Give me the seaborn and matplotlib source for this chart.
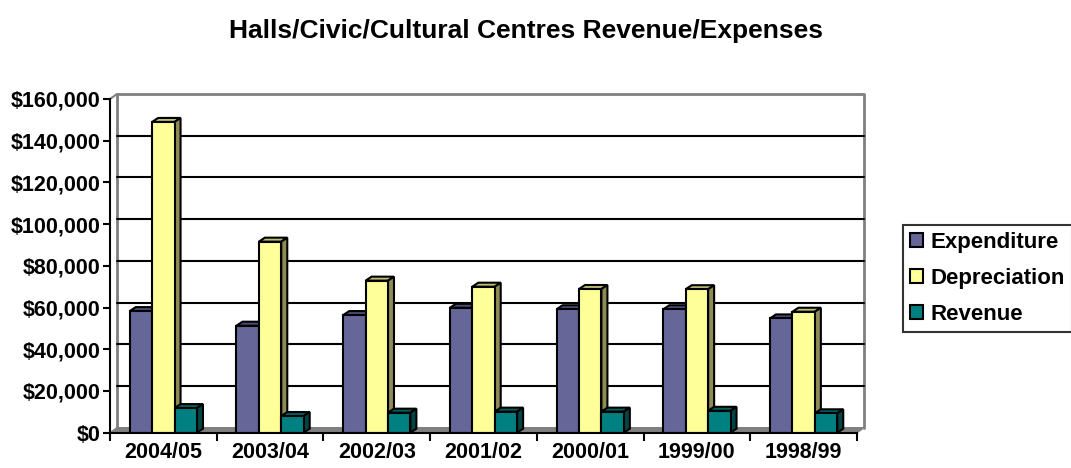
import numpy as np
import pandas as pd
import matplotlib.pyplot as plt
from matplotlib.patches import Polygon
from matplotlib.ticker import FuncFormatter, FixedLocator
import seaborn as sns

# values
years = ['2004/05', '2003/04', '2002/03', '2001/02', '2000/01', '1999/00', '1998/99']
expenditure = [58300, 51300, 56400, 59900, 59200, 59200, 54800]
depreciation = [149000, 91600, 72900, 70000, 68900, 68800, 58000]
revenue = [11800, 8000, 9600, 10100, 10100, 10500, 9300]
series = ['Expenditure', 'Depreciation', 'Revenue']
colours = ['#666699', '#FFFF99', '#008080']

df = pd.DataFrame({'Year': years * 3,
                   'Series': np.repeat(series, len(years)),
                   'Amount': expenditure + depreciation + revenue})

sns.set_theme(style='white')
plt.rcParams['font.family'] = ['Liberation Sans', 'DejaVu Sans']
plt.rcParams['font.weight'] = 'bold'
plt.rcParams['text.color'] = 'black'

W, H = 1071, 468
fig = plt.figure(figsize=(W / 100, H / 100), dpi=100)
ax_l, ax_r, ax_b, ax_t = 110, 857, 432.7, 99
ax = fig.add_axes([ax_l / W, 1 - ax_b / H, (ax_r - ax_l) / W, (ax_b - ax_t) / H])
aw, ah = ax_r - ax_l, ax_b - ax_t

sns.barplot(data=df, x='Year', y='Amount', hue='Series', palette=colours,
            saturation=1, width=0.63, edgecolor='black', linewidth=1.5, ax=ax)
ax.set_xlim(-0.5, len(years) - 0.5)
ax.set_ylim(0, 160000)

# bars drawn by seaborn
bars = sorted([p for c in ax.containers for p in c], key=lambda p: p.get_x())

# fake 3D depth (pixel offsets turned into data / axes units)
ddx, ddy = 6, 4
dx = ddx * (len(years)) / aw
dy = ddy * 160000 / ah
wx, wy = 7 / aw, 5 / ah

# back wall, floor and gridlines
ax.add_patch(Polygon([(0, 0), (1, 0), (1 + wx, wy), (wx, wy)], closed=True,
                     transform=ax.transAxes, facecolor='#808080', edgecolor='#808080',
                     lw=1, zorder=0.6, clip_on=False))
for yv in range(20000, 160000, 20000):
    yf = yv / 160000 + wy
    ax.plot([wx, 1 + wx], [yf, yf], transform=ax.transAxes, color='black',
            lw=1.5, zorder=0.5, clip_on=False)
ax.plot([wx, wx, 1 + wx, 1 + wx], [wy, 1 + wy, 1 + wy, wy], transform=ax.transAxes,
        color='#808080', lw=2, zorder=0.4, clip_on=False)
ax.plot([0, wx], [1, 1 + wy], transform=ax.transAxes, color='#808080', lw=1.5,
        zorder=0.4, clip_on=False)

# bar tops and sides, ordered left to right so front faces cover neighbours
for i, p in enumerate(bars):
    z = 2 + i * 0.01
    x0, w, h = p.get_x(), p.get_width(), p.get_height()
    x1 = x0 + w
    fc = np.array(p.get_facecolor()[:3])
    p.set_zorder(z + 0.005)
    top = Polygon([(x0, h), (x0 + dx, h + dy), (x1 + dx, h + dy), (x1, h)], closed=True,
                  facecolor=fc * 0.75, edgecolor='black', lw=1.5, zorder=z, clip_on=False)
    side = Polygon([(x1, 0), (x1 + dx, dy), (x1 + dx, h + dy), (x1, h)], closed=True,
                   facecolor=fc * 0.55, edgecolor='black', lw=1.5, zorder=z, clip_on=False)
    ax.add_patch(top)
    ax.add_patch(side)

# axes styling
for s in ['top', 'right']:
    ax.spines[s].set_visible(False)
for s in ['left', 'bottom']:
    ax.spines[s].set_color('black')
    ax.spines[s].set_linewidth(1.5)
    ax.spines[s].set_zorder(5)
ax.set_xlabel('')
ax.set_ylabel('')
ax.yaxis.set_major_locator(FixedLocator(range(0, 160001, 20000)))
ax.yaxis.set_major_formatter(FuncFormatter(lambda v, _: '${:,.0f}'.format(v)))
ax.tick_params(axis='y', direction='out', length=5, width=1.5, color='black',
               labelsize=15.5, pad=2, left=True)
ax.xaxis.set_minor_locator(FixedLocator(np.arange(-0.5, len(years), 1)))
ax.tick_params(axis='x', which='major', length=0, labelsize=15.5, pad=7)
ax.tick_params(axis='x', which='minor', direction='out', length=6, width=1.5,
               color='black', bottom=True)
for lab in ax.get_xticklabels() + ax.get_yticklabels():
    lab.set_fontweight('bold')
    lab.set_color('black')

# legend
handles, labels = ax.get_legend_handles_labels()
ax.get_legend().remove()
leg = fig.legend(handles, labels, loc='upper left',
                 bbox_to_anchor=(903 / W, 1 - 225 / H), frameon=True, fancybox=False,
                 edgecolor='black', prop={'weight': 'bold', 'size': 16},
                 handlelength=0.6, handleheight=0.6, handletextpad=0.35,
                 labelspacing=0.68, borderpad=0.3, borderaxespad=0)
leg.get_frame().set_linewidth(1.5)

fig.text(526 / W, 1 - 31 / H, 'Halls/Civic/Cultural Centres Revenue/Expenses',
         ha='center', va='center', fontsize=19, fontweight='bold', color='black')

fig.savefig('out.png', dpi=100)
